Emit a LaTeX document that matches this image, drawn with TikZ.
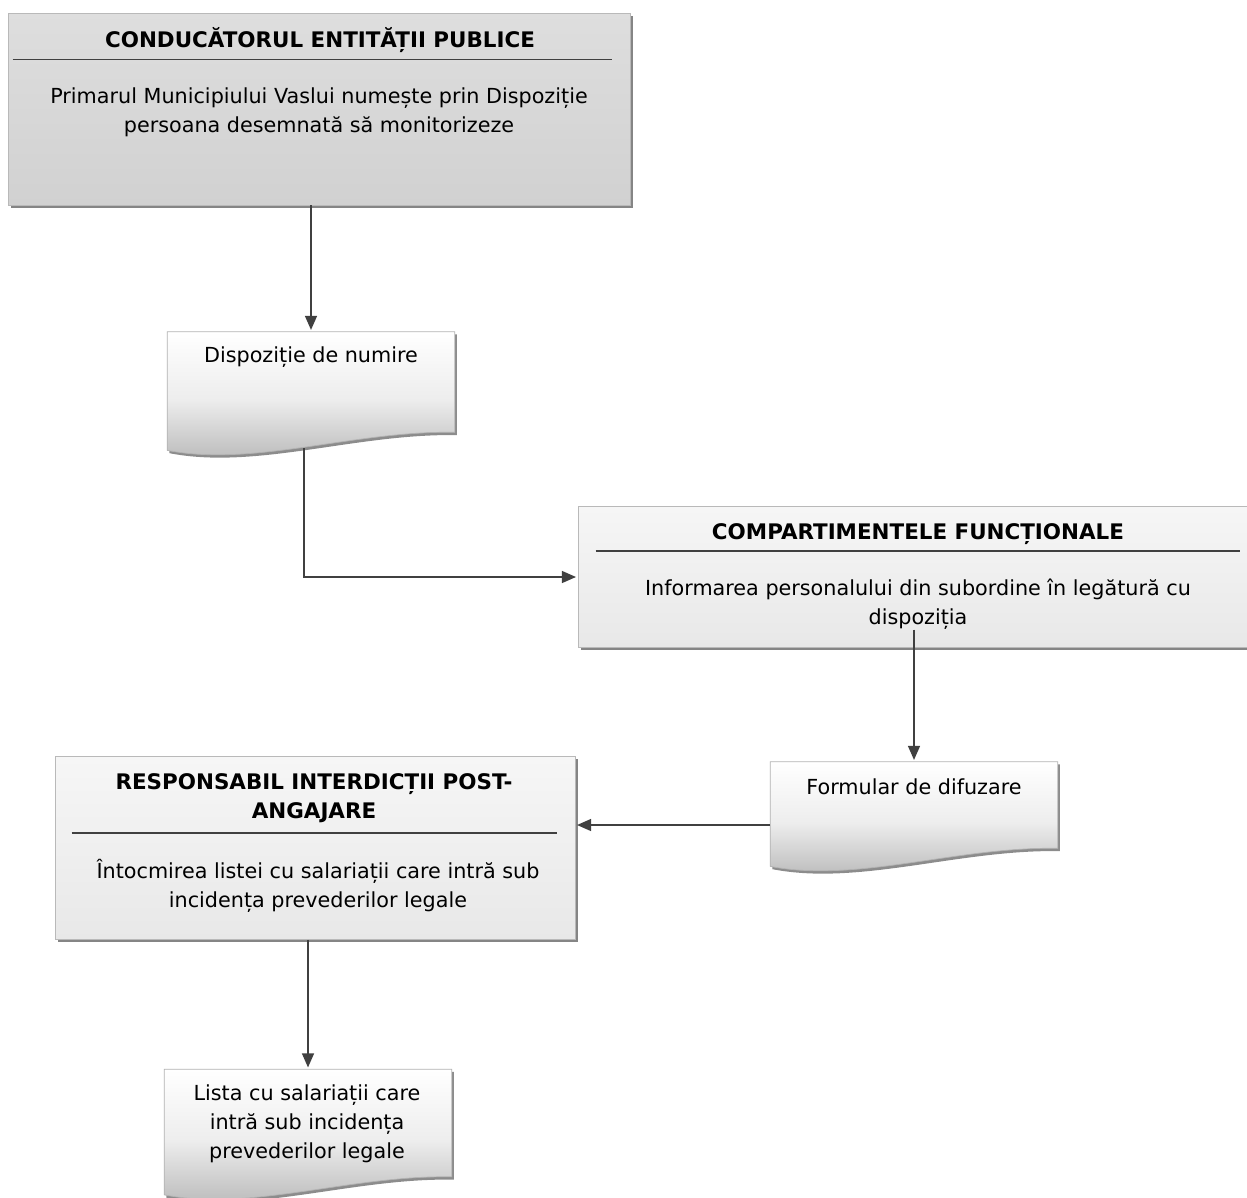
\documentclass[tikz,border=0pt]{standalone}
\usepackage{fontspec}
\setmainfont{DejaVu Sans}
\usetikzlibrary{arrows.meta,calc,shadows}

\begin{document}
\begin{tikzpicture}[x=0.02cm, y=-0.02cm, >={Triangle[length=2.8mm,width=2.4mm]},
  darkbox/.style={draw=gray!55, top color=gray!26, bottom color=gray!36, inner sep=0pt,
    drop shadow={shadow xshift=1.6pt, shadow yshift=-1.6pt, fill=black!60, opacity=0.8}},
  lightbox/.style={darkbox, top color=gray!7, bottom color=gray!18},
  docbox/.style={inner sep=0pt, minimum width=5.74cm},
  docshape/.style={draw=gray!60, top color=white, bottom color=gray!58, middle color=gray!14,
    drop shadow={shadow xshift=1.2pt, shadow yshift=-1.6pt, fill=black!60, opacity=0.75}},
  title/.style={font=\bfseries\fontsize{12.2}{16.4}\selectfont, align=center, inner sep=0pt},
  body/.style={font=\fontsize{11.8}{16.4}\selectfont, align=center, inner sep=0pt},
  rule/.style={draw=black!75, line width=0.9pt},
  link/.style={draw=black!75, line width=0.7pt, ->, shorten >=1pt}
]
  \useasboundingbox (0,0) rectangle (1247,1197);

  % boxes with a title
  \node[darkbox, minimum width=12.44cm, minimum height=3.84cm] (cond) at (319,109) {};
  \node[title] (cond-t) at (320,40) {CONDUCĂTORUL ENTITĂȚII PUBLICE};
  \draw[rule] ($(cond.north west)+(5,47)$) -- ($(cond.north east)+(-18,47)$);
  \node[body] (cond-b) at (319,112) {Primarul Municipiului Vaslui numește prin Dispoziție\\persoana desemnată să monitorizeze};

  \node[lightbox, minimum width=13.44cm, minimum height=2.82cm] (comp) at (914,577) {};
  \node[title] (comp-t) at (918,534) {COMPARTIMENTELE FUNCȚIONALE};
  \draw[rule] ($(comp.north west)+(18,45)$) -- ($(comp.north east)+(-10,45)$);
  \node[body] (comp-b) at (918,604) {Informarea personalului din subordine în legătură cu\\dispoziția};

  \node[lightbox, minimum width=10.4cm, minimum height=3.66cm] (resp) at (315,848) {};
  \node[title] (resp-t) at (314,798) {RESPONSABIL INTERDICȚII POST-\\ANGAJARE};
  \draw[rule] ($(resp.north west)+(17,77)$) -- ($(resp.north east)+(-18,77)$);
  \node[body] (resp-b) at (318,886) {Întocmirea listei cu salariații care intră sub\\incidența prevederilor legale};

  % documents
  \node[docbox, minimum height=2cm] (disp) at (311,382) {};
  \node[docbox, minimum height=1.72cm] (form) at (914,805) {};
  \node[docbox, minimum height=2.14cm] (lista) at (308,1123) {};
  \foreach \n in {disp,form,lista}
    \path[docshape] (\n.north west) -- (\n.north east) -- (\n.south east)
      .. controls ($(\n.south east)+(-100,-2)$) and ($(\n.south west)+(87,35)$)
      .. ($(\n.south west)+(0,18)$) -- cycle;
  \node[body] (disp-t) at (311,357) {Dispoziție de numire};
  \node[body] (form-t) at (914,787) {Formular de difuzare};
  \node[body] (lista-t) at (307,1124) {Lista cu salariații care\\intră sub incidența\\prevederilor legale};

  % connectors
  \draw[link] (cond.south -| disp.north) -- (disp.north);
  \draw[link] ($(disp.south)+(-7,16)$) |- (comp.west);
  \draw[link] (comp-b.south -| form.north) -- (form.north);
  \coordinate (form-out) at ($(form.west)+(0,20)$);
  \draw[link] (form-out) -- (form-out -| resp.east);
  \draw[link] (resp.south -| lista.north) -- (lista.north);
\end{tikzpicture}
\end{document}
